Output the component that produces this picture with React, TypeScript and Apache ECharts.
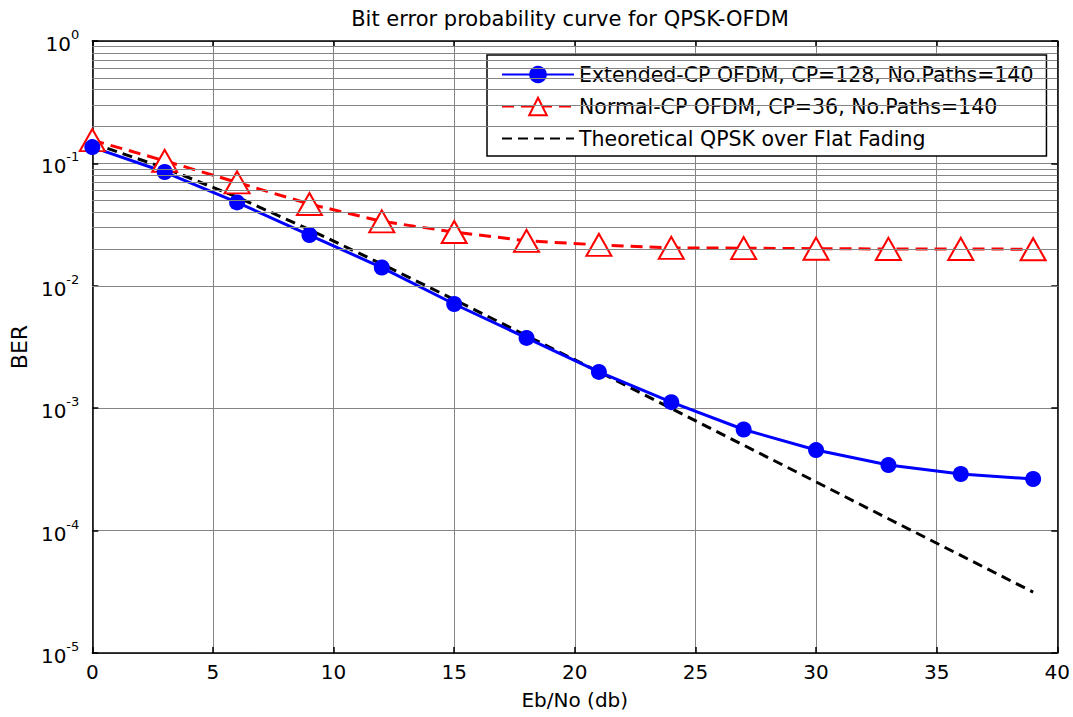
import React, { useEffect, useRef } from "react";
import * as echarts from "echarts";

const snrDb = [0, 3, 6, 9, 12, 15, 18, 21, 24, 27, 30, 33, 36, 39];
const extendedCpBer = [0.136, 0.085, 0.048, 0.026, 0.0141, 0.0071, 0.00375, 0.00198, 0.00112, 0.00067, 0.000455, 0.000343, 0.00029, 0.000264];
const normalCpBer = [0.155, 0.105, 0.07, 0.0466, 0.0336, 0.0275, 0.0233, 0.0216, 0.0204, 0.0203, 0.0201, 0.02, 0.02, 0.0199];
const theoryBer = [0.146, 0.0918, 0.053, 0.0288, 0.01505, 0.00772, 0.00391, 0.00198, 0.000995, 0.000499, 0.00025, 0.000125, 0.0000627, 0.0000314];

const seriesNames = [
  "Extended-CP OFDM, CP=128, No.Paths=140",
  "Normal-CP OFDM, CP=36, No.Paths=140",
  "Theoretical QPSK over Flat Fading",
];
const titleText = "Bit error probability curve for QPSK-OFDM";
const xName = "Eb/No (db)";
const yName = "BER";
const decadeStarts = [1e-5, 1e-4, 1e-3, 1e-2, 1e-1];
const minorMantissas = [2, 3, 4, 5, 6, 7, 8, 9];

const FONT = "DejaVu Sans";

export default function App() {
  const ref = useRef<HTMLDivElement>(null);
  useEffect(() => {
    if (!ref.current) return;
    const chart = echarts.init(ref.current, undefined, { renderer: "svg" });
    const minorVals: number[] = [];
    decadeStarts.forEach((d) => minorMantissas.forEach((m) => minorVals.push(d * m)));

    const gridLine = { show: true, lineStyle: { color: "#858585", width: 1 } };
    const axisLine = { show: true, onZero: false, lineStyle: { color: "#000", width: 1.5 } };
    const tick = { show: true, inside: true, length: 6, lineStyle: { color: "#000", width: 1.5 } };

    const yLabel = {
      show: true,
      margin: 13,
      formatter: (v: number) => `{b|10}{s|${Math.round(Math.log10(v))}}`,
      rich: {
        b: { fontFamily: FONT, fontSize: 20, color: "#000", verticalAlign: "bottom" },
        s: { fontFamily: FONT, fontSize: 13, color: "#000", verticalAlign: "bottom", padding: [0, 0, 13, 0] },
      },
    };

    const option: any = {
      animation: false,
      backgroundColor: "#fff",
      title: {
        text: titleText,
        left: 565,
        textAlign: "center",
        top: 3,
        textStyle: { fontFamily: FONT, fontSize: 21, fontWeight: "normal", color: "#000" },
      },
      grid: { left: 91, right: 15, top: 41, bottom: 64 },
      legend: {
        orient: "vertical",
        left: 487,
        top: 55,
        data: [
          { name: seriesNames[0] },
          { name: seriesNames[1] },
          { name: seriesNames[2], itemStyle: { opacity: 0 } },
        ],
        padding: [9, 13, 7, 14],
        itemGap: 11,
        itemWidth: 72,
        itemHeight: 22,
        backgroundColor: "#fff",
        borderColor: "#000",
        borderWidth: 1.5,
        borderRadius: 0,
        textStyle: { fontFamily: FONT, fontSize: 20.5, color: "#000" },
      },
      xAxis: [
        {
          type: "value",
          min: 0,
          max: 40,
          interval: 5,
          position: "bottom",
          name: xName,
          nameLocation: "middle",
          nameGap: 37,
          nameTextStyle: { fontFamily: FONT, fontSize: 20, color: "#000" },
          axisLine,
          axisTick: tick,
          splitLine: gridLine,
          axisLabel: { margin: 9, fontFamily: FONT, fontSize: 20, color: "#000" },
        },
        {
          type: "value",
          min: 0,
          max: 40,
          interval: 5,
          position: "top",
          axisLine,
          axisTick: tick,
          splitLine: { show: false },
          axisLabel: { show: false },
        },
      ],
      yAxis: [
        {
          type: "log",
          logBase: 10,
          min: 1e-5,
          max: 1,
          position: "left",
          name: yName,
          nameLocation: "middle",
          nameGap: 62,
          nameRotate: 90,
          nameTextStyle: { fontFamily: FONT, fontSize: 22, color: "#000" },
          axisLine,
          axisTick: tick,
          splitLine: gridLine,
          axisLabel: yLabel,
        },
        {
          type: "log",
          logBase: 10,
          min: 1e-5,
          max: 1,
          position: "right",
          axisLine,
          axisTick: tick,
          splitLine: { show: false },
          axisLabel: { show: false },
        },
      ],
      series: [
        {
          name: "minor-grid",
          type: "line",
          data: [],
          silent: true,
          z: 1,
          markLine: {
            silent: true,
            symbol: ["none", "none"],
            label: { show: false },
            lineStyle: { color: "#858585", width: 1, type: "solid" },
            data: minorVals.map((v) => ({ yAxis: v })),
          },
        },
        {
          name: seriesNames[2],
          type: "line",
          data: snrDb.map((x, i) => [x, theoryBer[i]]),
          showSymbol: false,
          symbol: "none",
          lineStyle: { color: "#000", width: 3, type: [10, 6] },
          itemStyle: { color: "#000" },
          z: 3,
        },
        {
          name: seriesNames[1],
          type: "line",
          data: snrDb.map((x, i) => [x, normalCpBer[i]]),
          symbol: "emptyTriangle",
          symbolSize: [25, 22],
          lineStyle: { color: "#ff0000", width: 3, type: [12, 7] },
          itemStyle: { color: "#ff0000", borderColor: "#ff0000", borderWidth: 3 },
          z: 4,
        },
        {
          name: seriesNames[0],
          type: "line",
          data: snrDb.map((x, i) => [x, extendedCpBer[i]]),
          symbol: "circle",
          symbolSize: 16,
          lineStyle: { color: "#0000ff", width: 3 },
          itemStyle: { color: "#0000ff" },
          z: 4,
        },
      ],
    };
    chart.setOption(option);
    return () => chart.dispose();
  }, []);
  return (
    <div
      ref={ref}
      style={{ position: "fixed", left: 0, top: 0, width: 1073, height: 717, background: "#fff" }}
    />
  );
}
